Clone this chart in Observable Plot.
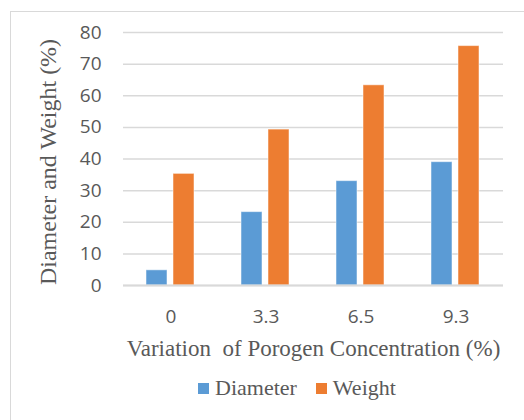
<!DOCTYPE html>
<html>
<head>
<meta charset="utf-8">
<script src="https://cdn.jsdelivr.net/npm/d3@7"></script>
<script src="https://cdn.jsdelivr.net/npm/@observablehq/plot@0.6"></script>
<style>
  html, body { margin: 0; padding: 0; background: #fff; overflow: hidden; }
  #wrap { position: relative; width: 524px; height: 420px; overflow: hidden; background: #fff; }
  #frame { position: absolute; left: 10px; top: 11px; width: 700px; height: 700px; border: 1px solid #d9d9d9; box-sizing: border-box; }
  #chart { position: absolute; left: 0; top: 0; }
  #legend { position: absolute; left: 198px; top: 375px; display: flex; align-items: center;
            font-family: "Liberation Serif", "Times New Roman", serif; font-size: 22px; color: #595959; }
  .item { display: flex; align-items: center; margin-right: 19px; }
  .sw { width: 11px; height: 11px; margin-right: 6px; }
</style>
</head>
<body>
<div id="wrap">
  <div id="frame"></div>
  <div id="chart"></div>
  <div id="legend"></div>
</div>
<script>
const categories = ["0", "3.3", "6.5", "9.3"];
const series = ["Diameter", "Weight"];
const diameter = [4.8, 23.2, 33.0, 39.0];
const weight = [35.3, 49.3, 63.3, 75.7];
const colors = ["#5B9BD5", "#ED7D31"];
const yTicks = [0, 10, 20, 30, 40, 50, 60, 70, 80];
const xTitle = "Variation  of Porogen Concentration (%)";
const yTitle = "Diameter and Weight (%)";

const rows = categories.map((c, i) => ({conc: c, Diameter: diameter[i], Weight: weight[i]}));

const chart = Plot.plot({
  width: 524,
  height: 372,
  marginTop: 32,
  marginBottom: 87,
  marginLeft: 123,
  marginRight: 21,
  style: {fontFamily: "'Open Sans', sans-serif", fontSize: "19px", color: "#595959", background: "transparent"},
  x: {domain: categories, padding: 0},
  y: {domain: [0, 80]},
  marks: [
    Plot.gridY(yTicks, {stroke: "#d9d9d9", strokeWidth: 1.5, strokeOpacity: 1}),
    Plot.barY(rows, {x: "conc", y: series[0], fill: colors[0], insetLeft: 23, insetRight: 51, stroke: "white", strokeOpacity: 0.5}),
    Plot.barY(rows, {x: "conc", y: series[1], fill: colors[1], insetLeft: 50, insetRight: 24, stroke: "white", strokeOpacity: 0.5}),
    Plot.ruleY([0], {stroke: "#d9d9d9", strokeWidth: 2}),
    Plot.axisX({tickSize: 0, tickPadding: 24, label: null, fill: "#595959"}),
    Plot.axisY(yTicks, {tickSize: 0, tickPadding: 22, label: null, fill: "#595959"}),
    Plot.text([xTitle], {frameAnchor: "bottom", dy: 70, fontFamily: "'Liberation Serif', serif", fontSize: 23, fill: "#595959"}),
    Plot.text([yTitle], {frameAnchor: "left", textAnchor: "middle", rotate: -90, dx: -75, dy: 3, fontFamily: "'Liberation Serif', serif", fontSize: 24, fill: "#595959"})
  ]
});
document.getElementById("chart").appendChild(chart);

const legend = document.getElementById("legend");
series.forEach((s, i) => {
  const item = document.createElement("div");
  item.className = "item";
  const sw = document.createElement("div");
  sw.className = "sw";
  sw.style.background = colors[i];
  const label = document.createElement("span");
  label.textContent = s;
  item.appendChild(sw);
  item.appendChild(label);
  legend.appendChild(item);
});
</script>
</body>
</html>
